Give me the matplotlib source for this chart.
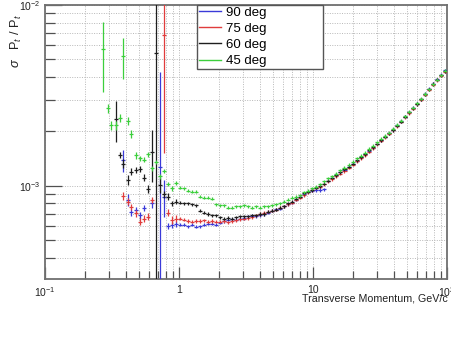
import numpy as np
import matplotlib
matplotlib.use("Agg")
import matplotlib.pyplot as plt
from matplotlib.lines import Line2D
from matplotlib.ticker import FixedLocator, FuncFormatter, NullFormatter

nan = np.nan

# transverse momentum bin centres, GeV/c
pt = [
    0.273, 0.293, 0.313, 0.336, 0.360, 0.385, 0.413, 0.442, 0.474, 0.508,
    0.544, 0.583, 0.625, 0.669, 0.717, 0.768, 0.823, 0.882, 0.945, 1.013,
    1.085, 1.163, 1.246, 1.335, 1.430, 1.532, 1.642, 1.759, 1.885, 2.020,
    2.164, 2.319, 2.485, 2.662, 2.853, 3.057, 3.275, 3.509, 3.760, 4.029,
    4.317, 4.626, 4.956, 5.311, 5.690, 6.097, 6.533, 7.000, 7.501, 8.037,
    8.612, 9.227, 9.887, 10.59, 11.35, 12.16, 13.03, 13.96, 14.96, 16.03,
    17.18, 18.41, 19.72, 21.13, 22.64, 24.26, 26.00, 27.86, 29.85, 31.98,
    34.27, 36.72, 39.34, 42.16, 45.17, 48.40, 51.86, 55.57, 59.54, 63.80,
    68.36, 73.25, 78.49, 84.10, 90.11, 96.56,
]

# relative resolution sigma(pt)/pt in units of 1e-3
res_90 = [
    nan, nan, nan, nan, nan, 1.39, 0.837, 0.716, 0.737, 0.69,
    0.753, nan, 0.80, nan, 1.28, 0.873, 0.60, 0.61, 0.615, 0.61,
    0.61, 0.60, 0.61, 0.595, 0.60, 0.61, 0.62, 0.62, 0.61, 0.625,
    0.64, 0.65, 0.655, 0.65, 0.66, 0.665, 0.68, 0.685, 0.68, 0.69,
    0.70, 0.71, 0.73, 0.745, 0.75, 0.77, 0.79, 0.81, 0.84, 0.87,
    0.90, 0.93, 0.94, 0.95, 0.95, 0.96, 1.07, 1.11, 1.15, 1.19,
    1.23, 1.28, 1.33, 1.38, 1.44, 1.50, 1.56, 1.63, 1.71, 1.79,
    1.87, 1.96, 2.05, 2.16, 2.28, 2.41, 2.56, 2.70, 2.85, 3.02,
    3.22, 3.45, 3.67, 3.88, 4.11, 4.35,
]
res_75 = [
    nan, nan, nan, nan, nan, 0.88, 0.82, 0.763, 0.707, 0.635,
    0.66, 0.677, 0.837, nan, nan, 6.83, 0.712, 0.65, 0.66, 0.66,
    0.65, 0.64, 0.635, 0.64, 0.64, 0.645, 0.635, 0.64, 0.635, 0.635,
    0.64, 0.63, 0.64, 0.645, 0.655, 0.66, 0.665, 0.67, 0.69, 0.70,
    0.71, 0.72, 0.73, 0.74, 0.76, 0.77, 0.79, 0.81, 0.84, 0.86,
    0.89, 0.92, 0.95, 0.98, 0.99, 1.02, 1.06, 1.09, 1.13, 1.17,
    1.21, 1.26, 1.31, 1.37, 1.42, 1.48, 1.55, 1.62, 1.70, 1.78,
    1.86, 1.94, 2.03, 2.14, 2.26, 2.39, 2.53, 2.67, 2.83, 3.00,
    3.20, 3.41, 3.63, 3.85, 4.07, 4.28,
]
res_60 = [
    nan, nan, nan, 2.34, 1.48, 1.33, 1.08, 1.20, 1.23, 1.24,
    1.11, 0.96, 1.55, 5.41, 1.01, 0.90, 0.873, 0.80, 0.82, 0.81,
    0.80, 0.80, 0.79, 0.78, 0.73, 0.71, 0.70, 0.69, 0.69, 0.67,
    0.66, 0.665, 0.66, 0.67, 0.68, 0.68, 0.68, 0.69, 0.69, 0.70,
    0.70, 0.72, 0.73, 0.74, 0.76, 0.77, 0.80, 0.82, 0.85, 0.87,
    0.91, 0.93, 0.95, 0.98, 1.00, 1.03, 1.07, 1.11, 1.15, 1.19,
    1.24, 1.28, 1.33, 1.39, 1.44, 1.50, 1.57, 1.64, 1.71, 1.79,
    1.87, 1.95, 2.04, 2.15, 2.27, 2.41, 2.55, 2.69, 2.84, 3.01,
    3.21, 3.43, 3.66, 3.87, 4.09, 4.30,
]
res_45 = [
    5.69, 2.68, 2.17, 2.17, 2.37, 5.25, 2.29, 1.94, 1.48, 1.42,
    1.40, 1.50, 1.25, 1.36, 1.13, 1.21, 1.025, 0.97, 1.04, 0.98,
    0.97, 0.94, 0.93, 0.93, 0.87, 0.86, 0.86, 0.85, 0.79, 0.78,
    0.78, 0.76, 0.76, 0.77, 0.77, 0.78, 0.77, 0.76, 0.77, 0.76,
    0.77, 0.77, 0.78, 0.79, 0.80, 0.82, 0.84, 0.86, 0.87, 0.89,
    0.92, 0.94, 0.97, 0.99, 1.02, 1.06, 1.10, 1.13, 1.17, 1.22,
    1.26, 1.31, 1.36, 1.42, 1.47, 1.53, 1.60, 1.67, 1.74, 1.82,
    1.89, 1.97, 2.07, 2.18, 2.29, 2.42, 2.57, 2.70, 2.86, 3.03,
    3.22, 3.43, 3.65, 3.87, 4.10, 4.34,
]

# statistical errors (1e-3) for the low-pt bins; beyond those a relative error applies
err_low_90 = [nan, nan, nan, nan, nan, 0.19, 0.06, 0.03, 0.03, 0.03,
              0.03, nan, 0.04, nan, 3.0, 0.20, 0.025, 0.025, 0.025]
err_low_75 = [nan, nan, nan, nan, nan, 0.04, 0.04, 0.03, 0.03, 0.03,
              0.03, 0.03, 0.03, nan, nan, 5.3, 0.03, 0.03, 0.03]
err_low_60 = [nan, nan, nan, 0.60, 0.06, 0.08, 0.07, 0.05, 0.05, 0.05,
              0.05, 0.05, 0.50, 8.0, 0.10, 0.04, 0.04, 0.03, 0.03]
err_low_45 = [2.40, 0.15, 0.12, 0.12, 0.12, 1.35, 0.12, 0.10, 0.07, 0.05,
              0.05, 0.05, 0.04, 0.04, 0.04, 0.03, 0.03, 0.03, 0.03]
rel_err = 0.02

labels = ["90 deg", "75 deg", "60 deg", "45 deg"]
colors = ["#3a3ad8", "#e03c3c", "#1e1e1e", "#3ccf3c"]
series = [res_90, res_75, res_60, res_45]
errors = [err_low_90, err_low_75, err_low_60, err_low_45]

plt.rcParams['font.family'] = ['Liberation Sans', 'DejaVu Sans']
plt.rcParams['mathtext.fontset'] = 'custom'
plt.rcParams['mathtext.rm'] = 'Liberation Sans'
plt.rcParams['mathtext.it'] = 'Liberation Sans:italic'
plt.rcParams['mathtext.bf'] = 'Liberation Sans:bold'
plt.rcParams['mathtext.sf'] = 'Liberation Sans'

fig = plt.figure(figsize=(4.51, 3.59), dpi=100)
ax = fig.add_axes([45 / 451, 80 / 359, 402 / 451, 274 / 359])
ax.set_xscale('log')
ax.set_yscale('log')
ax.set_xlim(0.1, 100)
ax.set_ylim(3.06e-4, 1e-2)

x = np.array(pt)
half = 10 ** 0.015
xlo = x - x / half
xhi = x * half - x

for vals, elow, col in zip(series, errors, colors):
    y = np.array(vals) * 1e-3
    e = np.array(vals) * rel_err * 1e-3
    e[:len(elow)] = np.array(elow) * 1e-3
    lo = np.where(y - e <= 0, y * (1 - 1e-4), e)
    ok = ~np.isnan(y)
    ax.errorbar(x[ok], y[ok], xerr=[xlo[ok], xhi[ok]], yerr=[lo[ok], e[ok]],
                fmt='none', ecolor=col, elinewidth=0.9, capsize=0, zorder=3)

# grid and ticks
major_x = [0.1, 1, 10, 100]
minor_x = [m * d for d in (0.1, 1, 10) for m in range(2, 10)]
major_y = [1e-3, 1e-2]
minor_y = [m * d for d in (1e-4, 1e-3) for m in range(2, 10)]
ax.xaxis.set_major_locator(FixedLocator(major_x))
ax.xaxis.set_minor_locator(FixedLocator(minor_x))
ax.yaxis.set_major_locator(FixedLocator(major_y))
ax.yaxis.set_minor_locator(FixedLocator(minor_y))

def xfmt(v, _):
    return {0.1: r'$10^{-1}$', 1: '1', 10: '10', 100: r'$10^{2}$'}.get(v, '')

def yfmt(v, _):
    return {1e-3: r'$10^{-3}$', 1e-2: r'$10^{-2}$'}.get(v, '')

ax.xaxis.set_major_formatter(FuncFormatter(xfmt))
ax.yaxis.set_major_formatter(FuncFormatter(yfmt))
ax.xaxis.set_minor_formatter(NullFormatter())
ax.yaxis.set_minor_formatter(NullFormatter())

ax.grid(True, which='both', color='#b8b8b8', linestyle=(0, (1, 1.5)), linewidth=0.7, zorder=0)
ax.set_axisbelow(True)
ax.tick_params(which='both', direction='in', top=False, right=False,
               color='#505050', width=0.9, labelsize=7.5, labelcolor='#222222')
ax.tick_params(axis='x', which='major', length=9, pad=4.5)
ax.tick_params(axis='x', which='minor', length=5.5)
ax.tick_params(axis='y', which='major', length=12, pad=3)
ax.tick_params(axis='y', which='minor', length=7)
for sp in ax.spines.values():
    sp.set_color('#707070')
    sp.set_linewidth(1.3)

fig.text(448 / 451, 1 - 298.5 / 359, 'Transverse Momentum, GeV/c', ha='right', va='center',
         fontsize=7.7, color='#222222')
fig.text(16 / 451, 1 - 68 / 359, r'$\sigma$   P$_{t}$ / P$_{t}$', rotation=90, ha='center',
         va='bottom', fontsize=9.2, color='#222222')

handles = [Line2D([], [], color=c, lw=1.0) for c in colors]
leg = ax.legend(handles, labels, loc='upper left',
                bbox_to_anchor=(152 / 402, 1 - 68 / 274, 126 / 402, 68 / 274),
                mode='expand', borderaxespad=0, fontsize=9.5, labelspacing=0.29,
                borderpad=0.13, handlelength=1.7, handletextpad=0.4,
                fancybox=False, framealpha=1, edgecolor='#555555')
leg.get_frame().set_linewidth(1.0)

fig.savefig('out.png', dpi=100)
